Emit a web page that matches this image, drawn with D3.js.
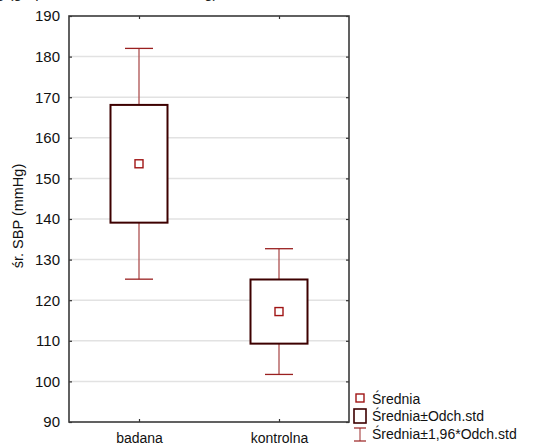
<!DOCTYPE html>
<html>
<head>
<meta charset="utf-8">
<script src="https://cdn.jsdelivr.net/npm/d3@7"></script>
<style>
  html, body { margin: 0; padding: 0; background: #fff; }
  svg { display: block; font-family: "Liberation Sans", Arial, sans-serif; }
</style>
</head>
<body>
<svg id="chart" width="533" height="446"></svg>
<script>
// Group categories and summary statistics of mean SBP
const groups = ["badana", "kontrolna"];
const means = [153.6, 117.2];
const sds = [14.5, 7.9];
const yTicks = [90, 100, 110, 120, 130, 140, 150, 160, 170, 180, 190];
const legendLabels = ["Średnia", "Średnia±Odch.std", "Średnia±1,96*Odch.std"];

const svg = d3.select("#chart");
const plot = { left: 69, right: 349, top: 16, bottom: 422 };

const x = d3.scalePoint().domain(groups).range([plot.left, plot.right]).padding(0.5);
const y = d3.scaleLinear().domain([90, 190]).range([plot.bottom, plot.top]);

const boxW = 57, capW = 28, markSize = 8;
const boxColor = "#3d0000", whiskColor = "#ad5050", capColor = "#9a2020", meanColor = "#a01515";

// Heading above the plot, largely cut by the top edge
svg.append("text")
  .attr("x", -4).attr("y", -2.5)
  .attr("font-size", 15).attr("fill", "#222")
  .text("g (grupa badana, śr. SBP mmHg)");

// Horizontal gridlines
svg.append("g").selectAll("line").data(yTicks.slice(1, -1)).join("line")
  .attr("x1", plot.left).attr("x2", plot.right)
  .attr("y1", d => y(d)).attr("y2", d => y(d))
  .attr("stroke", "#e2e2e2").attr("stroke-width", 1.5);

// Left axis with tick labels
const yAxis = d3.axisLeft(y).tickValues(yTicks).tickSize(-3).tickPadding(9).tickFormat(d3.format("d"));
const gy = svg.append("g").attr("transform", `translate(${plot.left},0)`).call(yAxis);
gy.select(".domain").remove();
gy.selectAll("line").attr("stroke", "#333").attr("stroke-width", 1.2);
gy.selectAll("text").attr("font-size", 15).attr("fill", "#111").attr("font-family", "Liberation Sans, Arial, sans-serif");

// Right axis ticks
const gyR = svg.append("g").attr("transform", `translate(${plot.right},0)`)
  .call(d3.axisRight(y).tickValues(yTicks).tickSize(-3).tickFormat(""));
gyR.select(".domain").remove();
gyR.selectAll("line").attr("stroke", "#333").attr("stroke-width", 1.2);

// Bottom axis with category labels
const gx = svg.append("g").attr("transform", `translate(0,${plot.bottom})`)
  .call(d3.axisBottom(x).tickSize(-3).tickPadding(11));
gx.select(".domain").remove();
gx.selectAll("line").attr("stroke", "#333").attr("stroke-width", 1.2);
gx.selectAll("text").attr("font-size", 14).attr("fill", "#111").attr("font-family", "Liberation Sans, Arial, sans-serif");

// Top axis ticks
const gxT = svg.append("g").attr("transform", `translate(0,${plot.top})`)
  .call(d3.axisTop(x).tickSize(-3).tickFormat(""));
gxT.select(".domain").remove();
gxT.selectAll("line").attr("stroke", "#333").attr("stroke-width", 1.2);

// Plot frame
svg.append("rect")
  .attr("x", plot.left).attr("y", plot.top)
  .attr("width", plot.right - plot.left).attr("height", plot.bottom - plot.top)
  .attr("fill", "none").attr("stroke", "#3a3a3a").attr("stroke-width", 1.6);

// Y axis title
svg.append("text")
  .attr("transform", `translate(23,${(plot.top + plot.bottom) / 2 - 3}) rotate(-90)`)
  .attr("text-anchor", "middle").attr("font-size", 14.5).attr("fill", "#111")
  .text("śr. SBP (mmHg)");

// Whiskers: mean ± 1.96 SD
const data = groups.map((g, i) => ({ g, m: means[i], s: sds[i] }));
const wg = svg.append("g");
data.forEach(d => {
  const cx = x(d.g);
  const hi = d.m + 1.96 * d.s, lo = d.m - 1.96 * d.s;
  wg.append("line").attr("x1", cx).attr("x2", cx).attr("y1", y(hi)).attr("y2", y(lo))
    .attr("stroke", whiskColor).attr("stroke-width", 1.3);
  [hi, lo].forEach(v => {
    wg.append("line").attr("x1", cx - capW / 2).attr("x2", cx + capW / 2)
      .attr("y1", y(v)).attr("y2", y(v))
      .attr("stroke", capColor).attr("stroke-width", 1.3);
  });
});

// Boxes: mean ± SD
svg.append("g").selectAll("rect").data(data).join("rect")
  .attr("x", d => x(d.g) - boxW / 2)
  .attr("y", d => y(d.m + d.s))
  .attr("width", boxW)
  .attr("height", d => y(d.m - d.s) - y(d.m + d.s))
  .attr("fill", "#fff").attr("stroke", boxColor).attr("stroke-width", 2);

// Mean markers
svg.append("g").selectAll("rect").data(data).join("rect")
  .attr("x", d => x(d.g) - markSize / 2)
  .attr("y", d => y(d.m) - markSize / 2)
  .attr("width", markSize).attr("height", markSize)
  .attr("fill", "#fff").attr("stroke", meanColor).attr("stroke-width", 1.4);

// Legend
const lg = svg.append("g");
const lx = 360, rows = [400, 417, 435];
lg.append("rect").attr("x", lx - 4).attr("y", rows[0] - 6).attr("width", 8).attr("height", 8)
  .attr("fill", "#fff").attr("stroke", meanColor).attr("stroke-width", 1.4);
lg.append("rect").attr("x", lx - 6).attr("y", rows[1] - 8).attr("width", 12).attr("height", 14)
  .attr("fill", "#fff").attr("stroke", boxColor).attr("stroke-width", 1.6);
lg.append("line").attr("x1", lx).attr("x2", lx).attr("y1", rows[2] - 7).attr("y2", rows[2] + 6)
  .attr("stroke", whiskColor).attr("stroke-width", 1.2);
[rows[2] - 7, rows[2] + 6].forEach(v => {
  lg.append("line").attr("x1", lx - 6).attr("x2", lx + 6).attr("y1", v).attr("y2", v)
    .attr("stroke", capColor).attr("stroke-width", 1.2);
});
lg.selectAll("text").data(legendLabels).join("text")
  .attr("x", 372).attr("y", (d, i) => rows[i] + 4)
  .attr("font-size", 14).attr("fill", "#111")
  .text(d => d);
</script>
</body>
</html>
